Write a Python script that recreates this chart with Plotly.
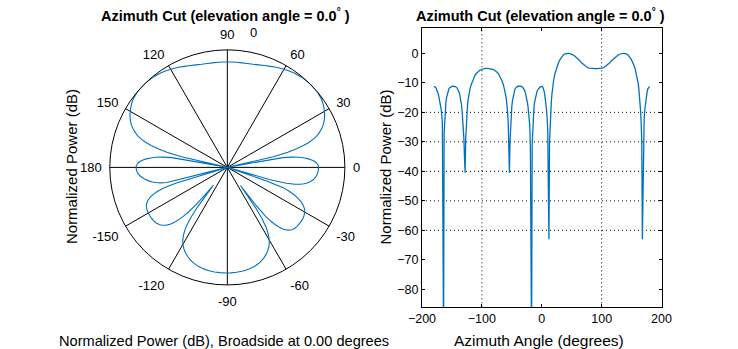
import numpy as np
import plotly.graph_objects as go

# ---------------- data ----------------
az_deg = [
    -180, -179, -178, -177, -176, -175, -174, -173, -172, -171, -170, -169, -168, -167, -166,
    -165, -164, -163, -162, -161, -160, -159, -158, -157, -156, -155, -154, -152, -150, -148,
    -146, -144, -142, -140, -139, -138, -137, -136, -135, -134, -133, -132, -131, -130, -129,
    -128, -127, -126, -125, -124, -123, -122, -121, -120, -118, -116, -114, -112, -110, -108,
    -106, -104, -102, -100, -97, -94, -91, -88, -85, -82, -80, -78, -76, -74, -72,
    -70, -68, -66, -64, -62, -61, -60, -59, -58, -57, -56, -55, -54, -53, -52,
    -51, -50, -49, -48, -47, -46, -45, -44, -42, -40, -38, -36, -34, -32, -30,
    -29, -28, -27, -26, -25, -24, -23, -22, -21, -20, -19, -18, -17, -16, -15,
    -14, -13, -12, -11, -10, -8, -6, -4, -2, 0,
    1, 2, 3, 4, 5, 6, 7, 8, 9, 10, 11, 12, 13, 14, 15, 16, 17, 18, 19, 20,
    22, 24, 26, 28, 30, 32, 34, 36, 38, 40, 42, 44, 46, 48, 50, 52, 55, 58, 61, 64,
    67, 70, 73, 76, 79, 82, 85, 88, 90, 92, 95, 98, 101, 104, 107, 110, 113, 116, 119, 122,
    125, 128, 130, 132, 134, 136, 138, 140, 142, 144, 146, 148, 150, 152, 154, 156, 158, 160,
    161, 162, 163, 164, 165, 166, 167, 168, 169, 170, 171, 172, 173, 174, 175, 176, 177, 178,
    179, 180,
]
power_db = [
    -11.2, -11.25, -11.4, -11.6, -12.0, -12.4, -13.0, -13.7, -14.5, -15.4, -16.4, -17.6, -19.0, -20.8, -23.5,
    -59, -100, -27, -21.5, -18.5, -16.5, -15.0, -13.9, -13.1, -12.5, -12.0, -11.7, -11.35, -11.2, -11.15,
    -11.15, -11.3, -11.6, -12.2, -12.6, -13.2, -13.9, -14.8, -16.0, -17.5, -19.5, -22, -25, -29, -35.5,
    -40.5, -29, -23.5, -20, -17.6, -15.8, -14.4, -13.2, -12.2, -10.7, -9.5, -8.5, -7.7, -7.0, -6.5,
    -6.1, -5.8, -5.55, -5.4, -5.2, -5.12, -5.1, -5.12, -5.2, -5.4, -5.55, -5.8, -6.1, -6.5, -7.0,
    -7.7, -8.5, -9.5, -10.7, -12.2, -13.2, -14.4, -15.8, -17.6, -20, -23.5, -29, -40.5, -30, -24,
    -20.5, -18, -16.2, -14.8, -13.7, -12.9, -12.3, -11.85, -11.35, -11.15, -11.1, -11.1, -11.2, -11.5, -12.0,
    -12.4, -12.9, -13.6, -14.4, -15.4, -16.6, -18.0, -19.8, -22, -24.5, -32, -59, -100, -31, -24,
    -20.5, -18.2, -16.6, -15.4, -14.4, -13.0, -12.1, -11.6, -11.3, -11.2,
    -11.25, -11.6, -12.1, -12.9, -14.0, -15.3, -17.0, -19.2, -22, -26, -46, -63, -30, -23.5, -19.5, -16.3, -13.8, -11.8, -10.2, -8.9,
    -6.9, -5.3, -4.1, -3.1, -2.3, -1.6, -1.0, -0.55, -0.25, -0.08, -0.01, 0, -0.03, -0.12, -0.3, -0.5, -0.9, -1.4, -2.0, -2.6,
    -3.3, -3.9, -4.4, -4.8, -5.0, -5.1, -5.13, -5.15, -5.15, -5.15, -5.13, -5.1, -5.0, -4.8, -4.4, -3.9, -3.3, -2.6, -2.0, -1.4,
    -0.9, -0.5, -0.3, -0.12, -0.03, 0, -0.01, -0.08, -0.25, -0.55, -1.0, -1.6, -2.3, -3.1, -4.1, -5.3, -6.9, -8.9,
    -10.2, -11.8, -13.8, -16.3, -19.5, -23.5, -30, -63, -46, -26, -22, -19.2, -17.0, -15.3, -14.0, -12.9, -12.1, -11.6,
    -11.25, -11.2,
]

polar_tickvals = [0, 30, 60, 90, 120, 150, 180, 210, 240, 270, 300, 330]
polar_ticktext = ["0", "30", "60", "90", "120", "150", "180", "-150", "-120", "-90", "-60", "-30"]
polar_rlim = [-50, 0]

x_ticks = [-200, -100, 0, 100, 200]
y_ticks = [0, -10, -20, -30, -40, -50, -60, -70, -80]
x_range = [-200, 200]
y_range = [-86.1, 8.7]
grid_x = [-100, 100]
grid_y = [-20, -30, -40, -50, -60]

title_text = "Azimuth Cut (elevation angle = 0.0<sup>°</sup> )"
ylabel_text = "Normalized Power (dB)"
polar_caption = "Normalized Power (dB), Broadside at 0.00 degrees"
xlabel_text = "Azimuth Angle (degrees)"

# ---------------- styling ----------------
W, H = 738, 349
FONT = "Liberation Sans, Arial, sans-serif"
BLUE = "#0072BD"
TXT = "#000000"

def px(x):
    return x / W

def py(y):
    return 1 - y / H

az = np.array(az_deg, dtype=float)
db = np.array(power_db, dtype=float)

fig = go.Figure()
fig.add_trace(go.Scatterpolar(
    r=np.maximum(db, polar_rlim[0]), theta=az, mode="lines",
    line=dict(color=BLUE, width=1.1), subplot="polar", showlegend=False,
    hoverinfo="skip"))
fig.add_trace(go.Scatter(
    x=az, y=db, mode="lines", line=dict(color=BLUE, width=1.3),
    xaxis="x", yaxis="y", showlegend=False, cliponaxis=True, hoverinfo="skip"))

shapes = []
for gx in grid_x:
    shapes.append(dict(type="line", xref="x", yref="y domain", x0=gx, x1=gx, y0=0, y1=1,
                       line=dict(color="black", width=1, dash="1px,3px"), layer="below"))
for gy in grid_y:
    shapes.append(dict(type="line", xref="x domain", yref="y", x0=0, x1=1, y0=gy, y1=gy,
                       line=dict(color="black", width=1, dash="1px,3px"), layer="below"))

ann = [
    dict(text="<b>" + title_text + "</b>", x=px(219), y=py(15), xref="paper", yref="paper",
         showarrow=False, xanchor="center", yanchor="middle", font=dict(size=14.5, color=TXT)),
    dict(text="<b>" + title_text + "</b>", x=px(544), y=py(15), xref="paper", yref="paper",
         showarrow=False, xanchor="center", yanchor="middle", font=dict(size=14.5, color=TXT)),
    dict(text=ylabel_text, x=px(60), y=py(167), xref="paper", yref="paper", textangle=-90,
         showarrow=False, xanchor="center", yanchor="middle", font=dict(size=15, color=TXT)),
    dict(text=ylabel_text, x=px(384), y=py(167), xref="paper", yref="paper", textangle=-90,
         showarrow=False, xanchor="center", yanchor="middle", font=dict(size=15, color=TXT)),
    dict(text=polar_caption, x=px(217), y=py(340.5), xref="paper", yref="paper",
         showarrow=False, xanchor="center", yanchor="middle", font=dict(size=14.6, color=TXT)),
    dict(text=xlabel_text, x=px(543), y=py(340.5), xref="paper", yref="paper",
         showarrow=False, xanchor="center", yanchor="middle", font=dict(size=15.5, color=TXT)),
    dict(text=str(polar_rlim[1]), x=px(248), y=py(32.5), xref="paper", yref="paper",
         showarrow=False, xanchor="center", yanchor="middle", font=dict(size=13, color=TXT)),
]

fig.update_layout(
    width=W, height=H, autosize=False,
    margin=dict(l=0, r=0, t=0, b=0, pad=0),
    paper_bgcolor="white", plot_bgcolor="white",
    font=dict(family=FONT, color=TXT),
    polar=dict(
        domain=dict(x=[px(99), px(342)], y=[py(289.3), py(45.5)]),
        bgcolor="white",
        angularaxis=dict(
            rotation=0, direction="counterclockwise", tickmode="array",
            tickvals=polar_tickvals, ticktext=polar_ticktext,
            showgrid=True, gridcolor="black", gridwidth=0.8,
            showline=True, linecolor="black", linewidth=1,
            ticks="outside", ticklen=5, tickcolor="rgba(0,0,0,0)",
            tickfont=dict(size=13, color=TXT, family=FONT)),
        radialaxis=dict(range=polar_rlim, showgrid=False, showline=False,
                        showticklabels=False, ticks=""),
    ),
    xaxis=dict(domain=[px(421.7), px(669.3)], range=x_range, tickmode="array", tickvals=x_ticks,
               ticks="inside", ticklen=3, tickcolor="black", mirror="allticks", showline=True,
               linecolor="black", linewidth=1, showgrid=False, zeroline=False,
               tickfont=dict(size=12.5, color=TXT)),
    yaxis=dict(domain=[py(307.3), py(27.7)], range=y_range, tickmode="array", tickvals=y_ticks,
               ticks="inside", ticklen=3, tickcolor="black", mirror="allticks", showline=True,
               linecolor="black", linewidth=1, showgrid=False, zeroline=False,
               tickfont=dict(size=12.5, color=TXT)),
    shapes=shapes,
    annotations=ann,
)

fig.write_html("out.html")
